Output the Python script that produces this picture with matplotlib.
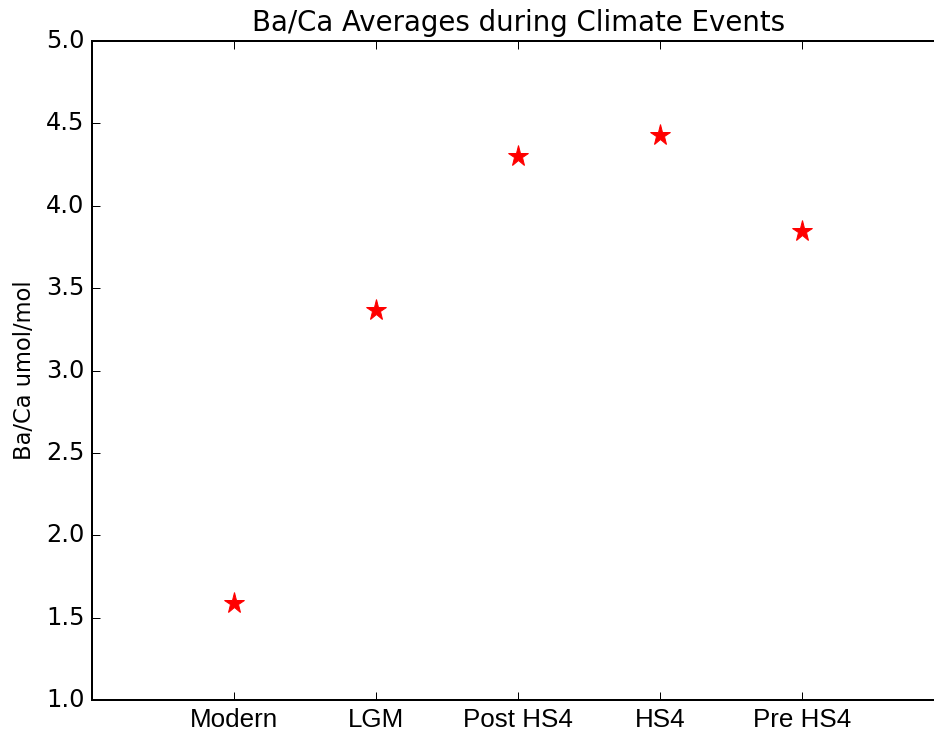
import matplotlib
matplotlib.use("Agg")
import matplotlib.pyplot as plt

events = ["Modern", "LGM", "Post HS4", "HS4", "Pre HS4"]
ba_ca = [1.59, 3.37, 4.30, 4.43, 3.85]

plt.style.use("classic")

fig = plt.figure(figsize=(934 / 144, 740 / 144), dpi=144, facecolor="white")
ax = fig.add_axes([0.099, 0.054, 0.912, 0.8905])

x = list(range(len(events)))
ax.plot(x, ba_ca, "r*", markersize=11, markeredgecolor="r")

ax.set_xlim(-1, len(events))
ax.set_ylim(1.0, 5.0)
ax.set_xticks(x)
ax.set_xticklabels(events, fontname="Liberation Sans", fontsize=13)
ax.set_ylabel("Ba/Ca umol/mol", fontsize=11.3)
ax.set_title("Ba/Ca Averages during Climate Events", fontsize=13.8)

fig.savefig("out.png", dpi=144, facecolor="white")
